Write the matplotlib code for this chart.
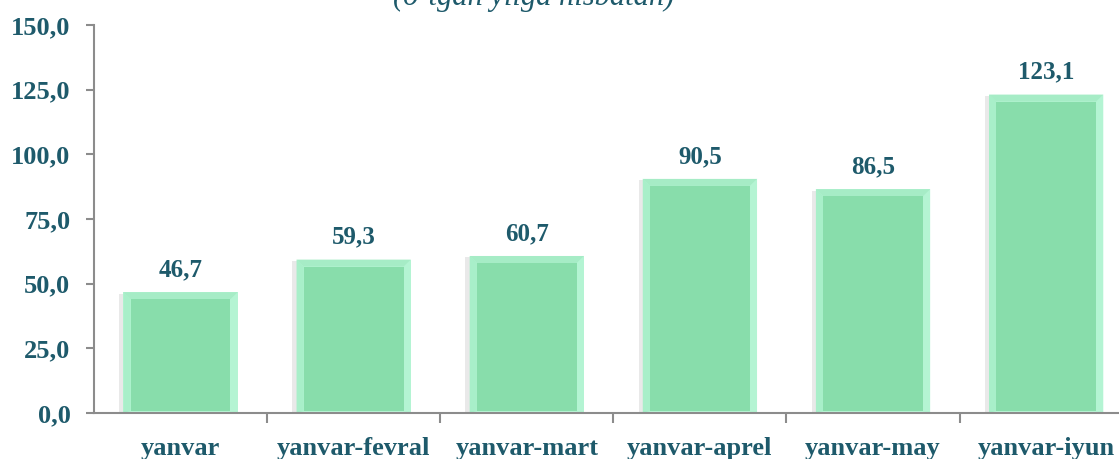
import matplotlib
matplotlib.use("Agg")
import matplotlib.pyplot as plt
from matplotlib.patches import Polygon, Rectangle
import matplotlib.patheffects as pe

categories = ["yanvar", "yanvar-fevral", "yanvar-mart", "yanvar-aprel", "yanvar-may", "yanvar-iyun"]
values = [46.7, 59.3, 60.7, 90.5, 86.5, 123.1]
yticks = [0, 25, 50, 75, 100, 125, 150]
title = "(o‘tgan yilga nisbatan)"

TEXT = "#1E5A6B"
BAR = "#88DDAB"
LIGHT = "#B8F6D6"
SPINE = "#8C8C8C"

plt.rcParams['font.family'] = ['Liberation Serif', 'DejaVu Serif']

fig = plt.figure(figsize=(11.19, 4.59), dpi=100)
ax = fig.add_axes([94/1119, 46/459, (1132.7-94)/1119, 388/459])

x = list(range(len(categories)))
bars = ax.bar(x, values, width=0.66, color=LIGHT, edgecolor='none', zorder=2)
ax.set_xlim(-0.5, len(categories) - 0.5)
ax.set_ylim(0, 150)

ix = 0.042
iy = 2.7
for b in bars:
    b.set_path_effects([pe.SimplePatchShadow(offset=(-3, -1), shadow_rgbFace='#aaaaaa', alpha=0.25), pe.Normal()])
    x0, w, h = b.get_x(), b.get_width(), b.get_height()
    x1 = x0 + w
    ax.add_patch(Polygon([(x0, 0), (x0 + ix, iy * 0.3), (x0 + ix, h - iy), (x0, h)],
                         closed=True, color="#A8EFC9", lw=0, zorder=3))
    ax.add_patch(Polygon([(x1, 0), (x1 - ix, iy * 0.3), (x1 - ix, h - iy), (x1, h)],
                         closed=True, color="#B4F4D3", lw=0, zorder=3))
    ax.add_patch(Polygon([(x0, h), (x0 + ix, h - iy), (x1 - ix, h - iy), (x1, h)],
                         closed=True, color="#A6ECC6", lw=0, zorder=3))
    ax.add_patch(Rectangle((x0 + ix, iy * 0.3), w - 2 * ix, h - iy - iy * 0.3,
                           color=BAR, lw=0, zorder=3))
    ax.annotate(f"{h:.1f}".replace('.', ','), (b.get_x() + w / 2, h),
                xytext=(0, 11.5), textcoords='offset points', ha='center', va='baseline',
                fontsize=18, fontweight='bold', color=TEXT)

ax.set_yticks(yticks)
ax.set_yticklabels([f"{v:.1f}".replace('.', ',') for v in yticks])
ax.set_xticks(x)
ax.set_xticklabels(categories)
ax.set_xticks([i + 0.5 for i in x[:-1]], minor=True)
ax.tick_params(axis='x', which='major', length=0, pad=17)
ax.tick_params(axis='x', which='minor', length=7, width=1.5, color=SPINE, direction='out')
ax.tick_params(axis='y', length=6, width=1.5, color=SPINE, pad=11)
for lab in ax.get_xticklabels() + ax.get_yticklabels():
    lab.set_fontsize(19)
    lab.set_fontweight('bold')
    lab.set_color(TEXT)

for s in ['top', 'right']:
    ax.spines[s].set_visible(False)
for s in ['left', 'bottom']:
    ax.spines[s].set_color(SPINE)
    ax.spines[s].set_linewidth(1.5)
    ax.spines[s].set_zorder(5)

fig.text(534/1119, 1 - 5/459, title, ha='center', va='baseline', fontsize=22,
         style='italic', color=TEXT)

fig.savefig("out.png", dpi=100)
